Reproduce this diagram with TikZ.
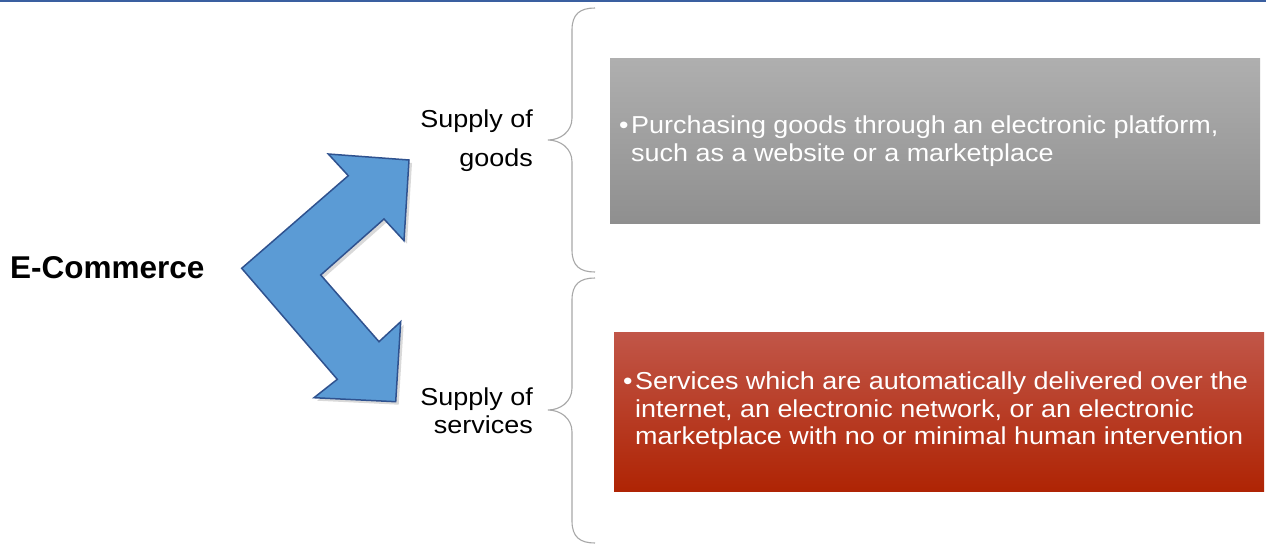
\documentclass[tikz,border=0pt]{standalone}
\usepackage{fontspec}
\setmainfont{Liberation Sans}
\newfontfamily\widesans[FakeStretch=1.1]{Liberation Sans}
\definecolor{rule}{RGB}{58,95,160}
\definecolor{arrowfill}{RGB}{91,155,213}
\definecolor{arrowline}{RGB}{47,82,143}
\definecolor{bracegray}{RGB}{168,168,168}
\definecolor{graytop}{RGB}{175,175,175}
\definecolor{graybot}{RGB}{143,143,143}
\definecolor{redtop}{RGB}{193,86,72}
\definecolor{redbot}{RGB}{175,36,4}
\tikzset{
  brace/.style={draw=bracegray, line width=1.1pt},
  sidelabel/.style={align=right, anchor=east, inner sep=0pt},
  infobox/.style={minimum width=650pt, inner sep=0pt, anchor=north west},
  boxtext/.style={align=left, anchor=west, inner sep=0pt, text=white},
}
\newcommand{\bul}{\makebox[12pt][l]{•}}
\begin{document}
\begin{tikzpicture}[x=1pt, y=-1pt]
\useasboundingbox (0,0) rectangle (1266,544);
\fill[white] (0,0) rectangle (1266,544);
% rule along the top edge
\fill[rule] (0,0) rectangle (1266,1.6);

% heading
\node[font=\fontsize{31.5}{36}\selectfont\bfseries, anchor=west, inner sep=0pt] (ec) at (10,268) {E-Commerce};

% forked arrow
\path[fill=black, opacity=0.15, xshift=3pt, yshift=-3pt]
  (241.7,268.3) -- (348.3,175.7) -- (328.3,154) -- (409,160) -- (404,240.7)
  -- (384,219) -- (320.7,275) -- (379,341.7) -- (400.7,321.7) -- (395.7,401.7)
  -- (314,397.7) -- (337.3,379.3) -- cycle;
\draw[fill=arrowfill, draw=arrowline, line width=1.5pt, line join=miter]
  (241.7,268.3) -- (348.3,175.7) -- (328.3,154) -- (409,160) -- (404,240.7)
  -- (384,219) -- (320.7,275) -- (379,341.7) -- (400.7,321.7) -- (395.7,401.7)
  -- (314,397.7) -- (337.3,379.3) -- cycle;

% side labels
\node[sidelabel, font=\widesans\fontsize{24.5}{39}\selectfont] (goods) at (533,141) {Supply of\\goods};
\node[sidelabel, font=\widesans\fontsize{24.5}{28}\selectfont] (services) at (533,411) {Supply of\\services};

% braces
\draw[brace] (595,8) .. controls (580,8) and (572,14) .. (572,30) -- (572,118)
  .. controls (572,132) and (560,140) .. (548,140)
  .. controls (560,140) and (572,148) .. (572,162) -- (572,250)
  .. controls (572,266) and (580,272) .. (595,272);
\draw[brace] (595,278) .. controls (580,278) and (572,284) .. (572,300) -- (572,388)
  .. controls (572,402) and (560,410) .. (548,410)
  .. controls (560,410) and (572,418) .. (572,432) -- (572,521)
  .. controls (572,537) and (580,543) .. (595,543);

% detail boxes
\node[infobox, minimum height=165pt, top color=graytop, bottom color=graybot] (gbox) at (610,58) {};
\node[infobox, minimum height=159pt, top color=redtop, bottom color=redbot] (sbox) at (614,332) {};

\node[boxtext, font=\widesans\fontsize{24.5}{27.5}\selectfont] (gtext) at (619,141)
  {\bul Purchasing goods through an electronic platform,\\\hspace*{12pt}such as a website or a marketplace};
\node[boxtext, font=\widesans\fontsize{24.5}{27.5}\selectfont] (stext) at (623,411)
  {\bul Services which are automatically delivered over the\\\hspace*{12pt}internet, an electronic network, or an electronic\\\hspace*{12pt}marketplace with no or minimal human intervention};
\end{tikzpicture}
\end{document}
